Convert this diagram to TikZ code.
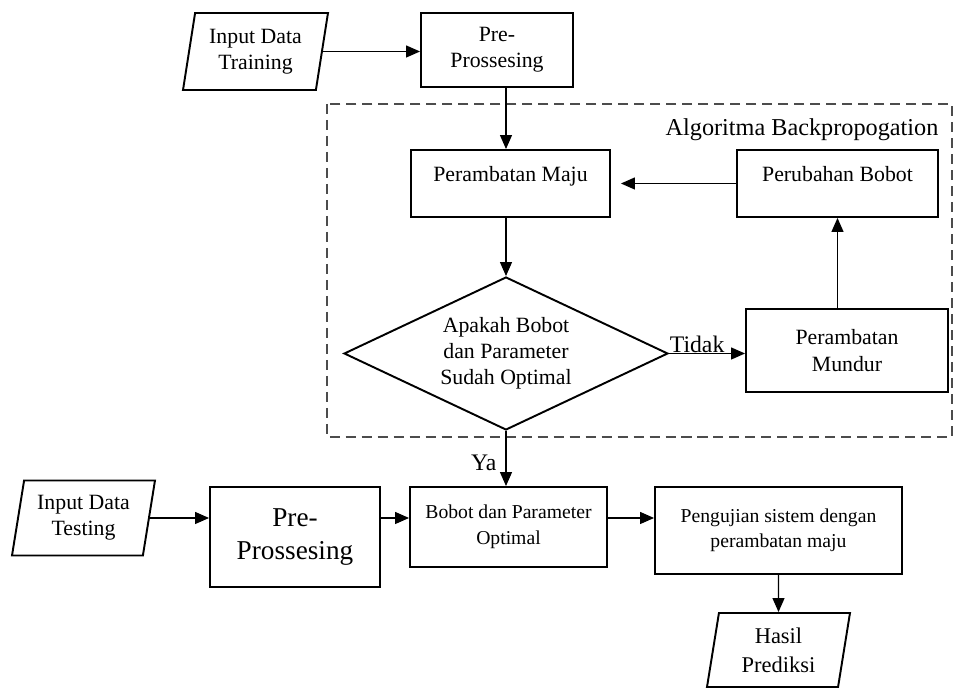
\documentclass[tikz,border=0pt]{standalone}
\usepackage{fontspec}
\setmainfont{Liberation Serif}
\usetikzlibrary{shapes.geometric,arrows.meta}

\begin{document}
\begin{tikzpicture}[x=0.02cm, y=-0.02cm,
  box/.style={draw, line width=1.1pt, align=center, inner sep=2pt, font=\fontsize{12.4}{15}\selectfont},
  data/.style={box, trapezium, trapezium left angle=77, trapezium right angle=103, trapezium stretches body},
  cond/.style={box, diamond, aspect=2.12, inner sep=0pt, font=\fontsize{12.4}{14.8}\selectfont},
  small/.style={font=\fontsize{11.2}{14.5}\selectfont},
  arr/.style={line width=0.7pt, -{Triangle[length=0.28cm, width=0.24cm]}},
  lbl/.style={font=\fontsize{13.5}{16}\selectfont}]

\useasboundingbox (0,0) rectangle (954,688);

\draw[dash pattern=on 5.7pt off 3.4pt, line width=1.6pt, black!70] (327,104) rectangle (952,437);
\node[lbl, font=\fontsize{13.8}{16}\selectfont] (judul) at (802,130) {Algoritma Backpropogation};

\node[data, minimum width=2.9cm, minimum height=1.54cm] (intrain) at (255.5,51.5) {Input Data\\Training};
\node[box, minimum width=3.04cm, minimum height=1.48cm] (prepro1) at (497,50) {Pre-\\Prossesing};
\node[box, minimum width=3.98cm, minimum height=1.34cm, text depth=0.4cm] (maju) at (510.5,183.5) {Perambatan Maju};
\node[box, minimum width=4.02cm, minimum height=1.34cm, text depth=0.4cm] (ubah) at (837.5,183.5) {Perubahan Bobot};
\node[cond, minimum width=6.48cm, minimum height=3.06cm] (cek) at (506,353.5) {Apakah Bobot\\dan Parameter\\Sudah Optimal};
\node[box, minimum width=4.04cm, minimum height=1.66cm] (mundur) at (847,350.5) {Perambatan\\Mundur};

\node[data, minimum width=2.86cm, minimum height=1.5cm] (intest) at (83.5,518) {Input Data\\Testing};
\node[box, minimum width=3.4cm, minimum height=2cm, font=\fontsize{15.5}{18.7}\selectfont] (prepro2) at (295,537) {Pre-\\Prossesing};
\node[box, small, minimum width=3.94cm, minimum height=1.6cm] (bobot) at (508.5,527) {Bobot dan Parameter\\Optimal};
\node[box, small, minimum width=4.94cm, minimum height=1.74cm] (uji) at (778.5,530.5) {Pengujian sistem dengan\\perambatan maju};
\node[data, minimum width=2.86cm, minimum height=1.48cm, font=\fontsize{12.8}{16.4}\selectfont] (hasil) at (778.5,650) {Hasil\\Prediksi};

\draw[arr] (intrain.east) -- (intrain.east -| prepro1.west);
\draw[arr] (prepro1.south -| cek.north) -- (maju.north -| cek.north);
\draw[arr] (maju.south -| cek.north) -- (cek.north);
\draw[arr] (cek.east) -- (cek.east -| mundur.west) node[lbl, above, inner sep=0pt, pos=0.37] (tidak) {Tidak};
\draw[arr] (ubah.south |- mundur.north) -- (ubah.south);
\draw[arr, shorten >=0.2cm] (ubah.west) -- (ubah.west -| maju.east);
\draw[arr] (cek.south) -- (cek.south |- bobot.north) node[lbl, left, inner sep=0.18cm, pos=0.58] (ya) {Ya};
\draw[arr] (intest.east) -- (intest.east -| prepro2.west);
\draw[arr] (prepro2.east |- intest.east) -- (bobot.west |- intest.east);
\draw[arr] (bobot.east |- intest.east) -- (uji.west |- intest.east);
\draw[arr] (uji.south) -- (hasil.north);
\end{tikzpicture}
\end{document}
